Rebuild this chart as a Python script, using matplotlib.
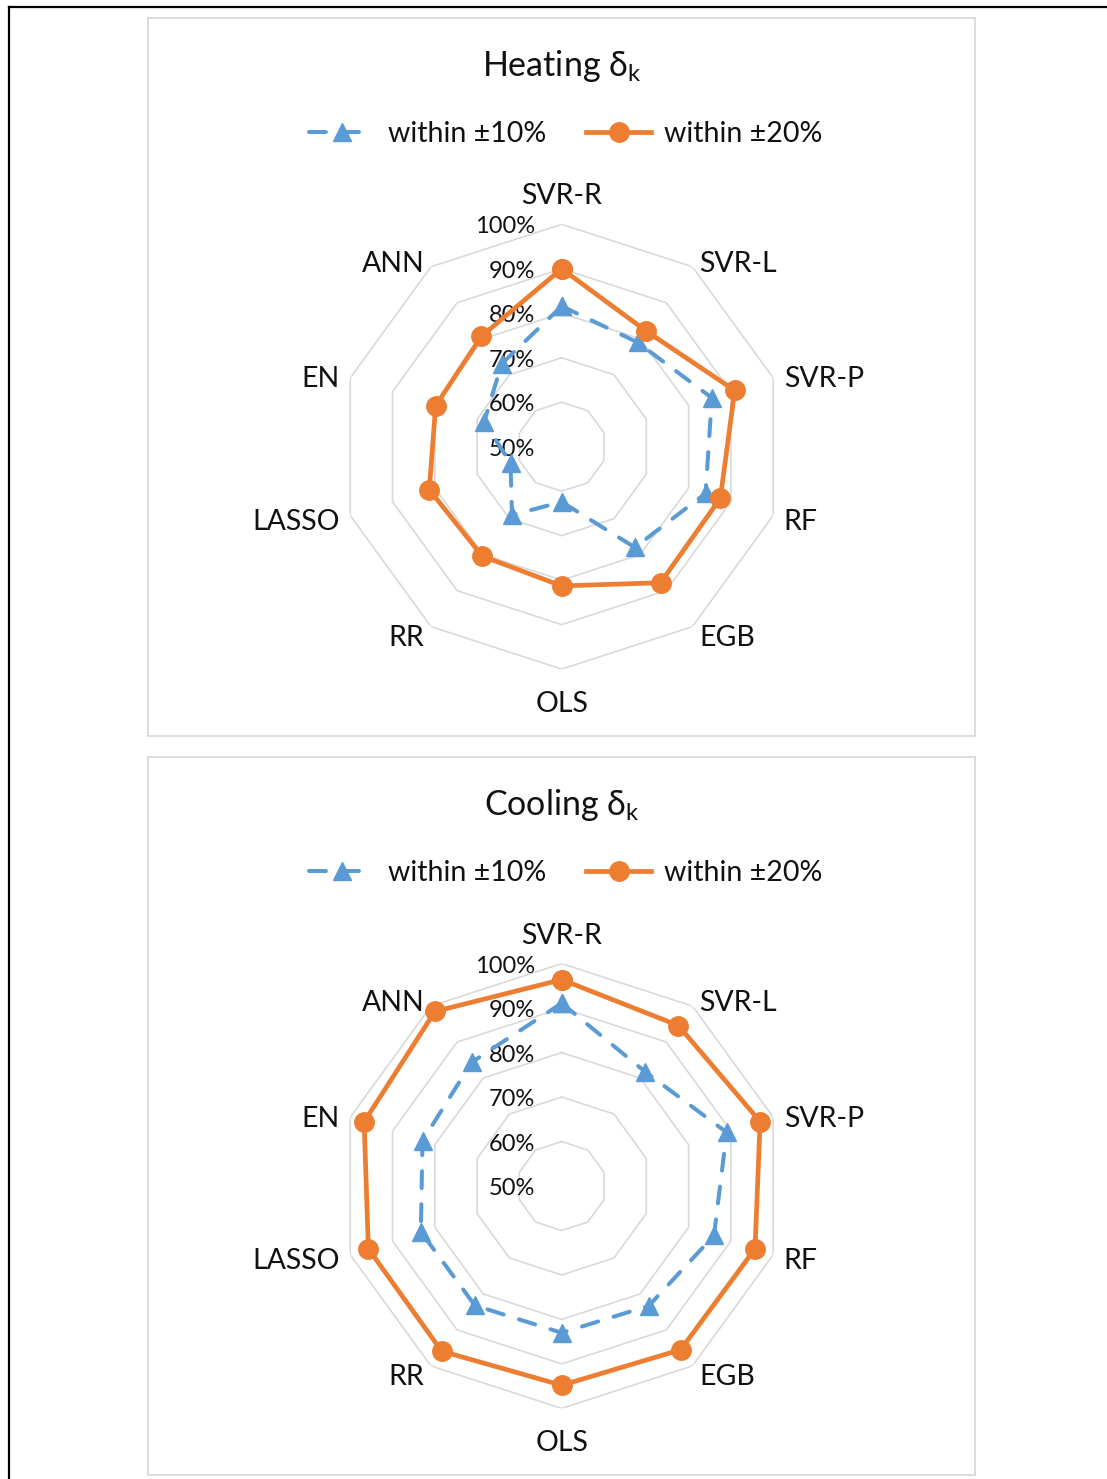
import numpy as np
import matplotlib
matplotlib.use("Agg")
import matplotlib.pyplot as plt
from matplotlib.patches import Rectangle
from matplotlib.lines import Line2D

plt.rcParams["font.family"] = ["Lato", "DejaVu Sans"]
plt.rcParams["mathtext.fontset"] = "custom"
plt.rcParams["mathtext.rm"] = "Lato"

# -----------------------------------------------------------------------
# Data: share of predictions within +-10% / +-20% for each model
# -----------------------------------------------------------------------
MODELS = ["SVR-R", "SVR-L", "SVR-P", "RF", "EGB", "OLS", "RR", "LASSO", "EN", "ANN"]
LEVELS = [0.5, 0.6, 0.7, 0.8, 0.9, 1.0]
LEVEL_LABELS = ["50%", "60%", "70%", "80%", "90%", "100%"]

HEAT_10 = [0.816, 0.790, 0.855, 0.840, 0.780, 0.624, 0.690, 0.621, 0.683, 0.730]
HEAT_20 = [0.900, 0.822, 0.909, 0.875, 0.878, 0.813, 0.804, 0.813, 0.798, 0.807]
COOL_10 = [0.911, 0.818, 0.890, 0.860, 0.833, 0.830, 0.832, 0.833, 0.829, 0.844]
COOL_20 = [0.964, 0.946, 0.969, 0.957, 0.955, 0.948, 0.959, 0.957, 0.967, 0.985]

BLUE = "#5B9BD5"
ORANGE = "#ED7D31"
GRID = "#D9D9D9"
TXT = "#111111"

W, H = 1107, 1479
PX = 0.72  # points per pixel at dpi=100


def draw_radar(ax, s10, s20):
    n = len(MODELS)
    theta = np.arange(n) * 2 * np.pi / n
    theta_c = np.append(theta, theta[0])

    ax.set_theta_zero_location("N")
    ax.set_theta_direction(-1)
    ax.set_ylim(LEVELS[0], LEVELS[-1])
    ax.grid(False)
    ax.set_xticks([])
    ax.set_yticks([])
    ax.spines["polar"].set_visible(False)
    ax.patch.set_visible(False)

    # decagon gridlines
    for lev in LEVELS[1:]:
        ax.plot(theta_c, [lev] * (n + 1), color=GRID, lw=1.2, zorder=1)

    # radial value labels along the top spoke
    for lev, lab in zip(LEVELS, LEVEL_LABELS):
        ax.annotate(lab, xy=(0, lev), xytext=(-27 * PX, -2.5 * PX),
                    textcoords="offset points", ha="right", va="center",
                    fontsize=17, color=TXT, zorder=1,
                    annotation_clip=False)

    # category labels around the outside
    for t, name in zip(theta, MODELS):
        s, c = np.sin(t), np.cos(t)
        g = 11
        if abs(s) < 0.01:
            ha = "center"
            dx, dy = 0, (28 if c > 0 else -35)
        else:
            ha = "left" if s > 0 else "right"
            dx, dy = g * s, g * c * 0.8 - 4
        ax.annotate(name, xy=(t, LEVELS[-1]), xytext=(dx * PX, dy * PX),
                    textcoords="offset points", ha=ha, va="center",
                    fontsize=20.5, color=TXT, annotation_clip=False)

    v10 = np.append(s10, s10[0])
    v20 = np.append(s20, s20[0])
    l10, = ax.plot(theta_c, v10, color=BLUE, lw=2.9, marker="^", ms=13,
                   dashes=(4.2, 4.0), dash_capstyle="round", zorder=3,
                   clip_on=False, label="within ±10%")
    l20, = ax.plot(theta_c, v20, color=ORANGE, lw=3.4, marker="o", ms=14,
                   zorder=4, clip_on=False, label="within ±20%")
    return l10, l20


fig = plt.figure(figsize=(W / 100, H / 100), dpi=100)

# outer frame (top and left edges)
fig.add_artist(Line2D([9 / W, 1], [1 - 7 / H, 1 - 7 / H], color="black", lw=1.6,
                      transform=fig.transFigure))
fig.add_artist(Line2D([9 / W, 9 / W], [0, 1 - 7 / H], color="black", lw=1.6,
                      transform=fig.transFigure))

cx, r = 561.7, 222.4
panels = [
    ("Heating δ$_\\mathregular{k}$", HEAT_10, HEAT_20, 0),
    ("Cooling δ$_\\mathregular{k}$", COOL_10, COOL_20, 739.3),
]
for title, s10, s20, off in panels:
    top, bot = 18 + off, 736 + off
    fig.add_artist(Rectangle((148 / W, 1 - bot / H), 827 / W, (bot - top) / H,
                             transform=fig.transFigure, fill=False,
                             ec=GRID, lw=1.3))
    cy = 446.7 + off
    ax = fig.add_axes([(cx - r) / W, 1 - (cy + r) / H, 2 * r / W, 2 * r / H],
                      projection="polar")
    l10, l20 = draw_radar(ax, s10, s20)

    fig.text(cx / W, 1 - (66 + off) / H, title, ha="center", va="center",
             fontsize=24.5, color=TXT)
    fig.legend(handles=[l10, l20], loc="center",
               bbox_to_anchor=(566 / W, 1 - (134 + off) / H), ncol=2,
               frameon=False, fontsize=20.5, handlelength=2.3,
               handletextpad=0.45, columnspacing=1.4, borderpad=0,
               labelcolor=TXT)

fig.savefig("out.png", dpi=100)
